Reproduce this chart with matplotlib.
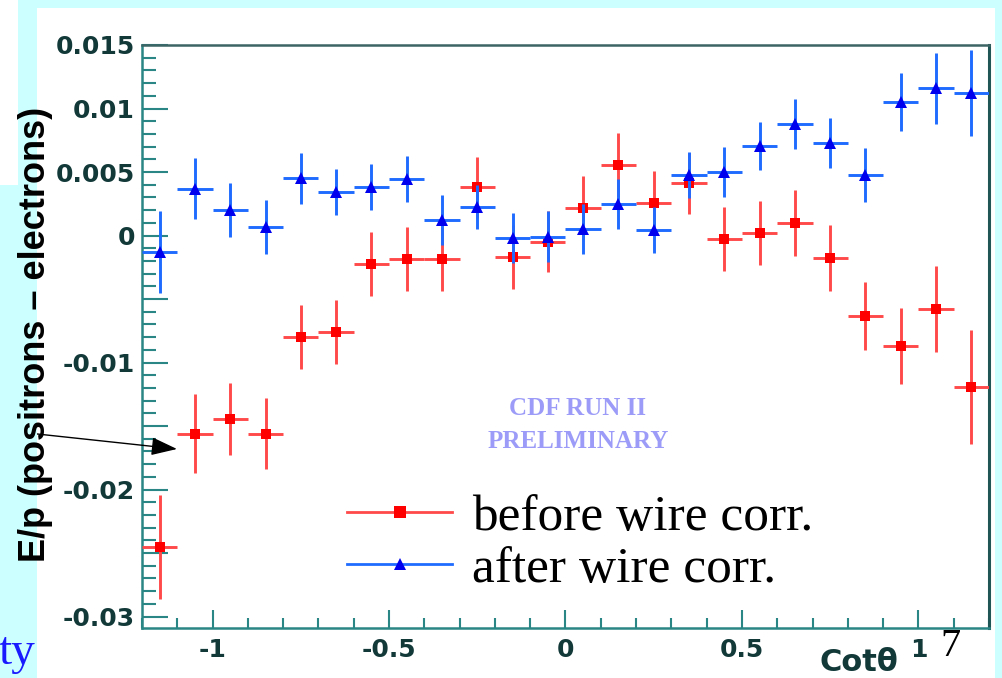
import matplotlib
matplotlib.use("Agg")
import matplotlib.pyplot as plt
from matplotlib.lines import Line2D
from matplotlib.patches import Rectangle
from matplotlib.ticker import FixedLocator, FixedFormatter, MultipleLocator

# ---- data ----
cot_theta = [-1.15, -1.05, -0.95, -0.85, -0.75, -0.65, -0.55, -0.45, -0.35, -0.25,
             -0.15, -0.05, 0.05, 0.15, 0.25, 0.35, 0.45, 0.55, 0.65, 0.75,
             0.85, 0.95, 1.05, 1.15]
bin_half_width = [0.05] * 24

before = [-0.0245, -0.0156, -0.01445, -0.0156, -0.0080, -0.0076, -0.00224, -0.00185,
          -0.00185, 0.0038, -0.0017, -0.0005, 0.00217, 0.00555, 0.00256, 0.00413,
          -0.00028, 0.0002, 0.00098, -0.00177, -0.00634, -0.0087, -0.00579, -0.01193]
before_err = [0.0041, 0.0031, 0.0028, 0.0028, 0.0025, 0.0025, 0.0025, 0.0025,
              0.0025, 0.0024, 0.0025, 0.0024, 0.0025, 0.0025, 0.0025, 0.0024,
              0.0025, 0.0025, 0.0026, 0.0026, 0.0027, 0.0030, 0.0034, 0.0045]

after = [-0.0013, 0.0037, 0.0020, 0.00067, 0.0045, 0.0034, 0.0038, 0.00445,
         0.00122, 0.00225, -0.0002, -0.0001, 0.00051, 0.00248, 0.00043, 0.00476,
         0.0050, 0.00705, 0.00878, 0.00728, 0.00476, 0.0105, 0.0116, 0.0112]
after_err = [0.0032, 0.0024, 0.0021, 0.0021, 0.0020, 0.0018, 0.0018, 0.0018,
             0.0020, 0.0017, 0.0020, 0.0020, 0.0020, 0.0020, 0.0018, 0.0018,
             0.0020, 0.0019, 0.0020, 0.0020, 0.0021, 0.0023, 0.0028, 0.0034]

ytick_values = [-0.03, -0.025, -0.02, -0.015, -0.01, -0.005, 0.0, 0.005, 0.01, 0.015]
ytick_labels = ["-0.03", "", "-0.02", "", "-0.01", "", "0", "0.005", "0.01", "0.015"]
xtick_values = [-1.0, -0.5, 0.0, 0.5, 1.0]
xtick_labels = ["-1", "-0.5", "0", "0.5", "1"]

series_labels = ["before wire corr.", "after wire corr."]

# ---- figure ----
W, H = 1003, 678
fig = plt.figure(figsize=(W / 100, H / 100), dpi=100, facecolor="white")

def fx(px):
    return px / W

def fy(py):
    return 1 - py / H

cyan = "#ccffff"
for (x0, y0, x1, y1) in [(18, 0, 1003, 8), (18, 0, 37, 185), (0, 185, 37, 678), (995, 0, 1003, 678)]:
    fig.patches.append(Rectangle((fx(x0), fy(y1)), fx(x1) - fx(x0), fy(y0) - fy(y1),
                                 transform=fig.transFigure, facecolor=cyan,
                                 edgecolor="none", zorder=0))

ax = fig.add_axes([fx(142), fy(628), fx(989) - fx(142), fy(45) - fy(628)])
ax.set_facecolor("white")
ax.set_xlim(-1.2, 1.2)
ax.set_ylim(-0.0309, 0.015)

red_bar = "#ff4a4a"
red_mk = "#ff0000"
blue_bar = "#1f6bff"
blue_mk = "#0000ee"

ax.errorbar(cot_theta, before, yerr=before_err, xerr=bin_half_width, fmt="s",
            color=red_mk, ecolor=red_bar, elinewidth=2.1, capsize=0,
            markersize=7.5, markeredgewidth=0, zorder=3)
ax.errorbar(cot_theta, after, yerr=after_err, xerr=bin_half_width, fmt="^",
            color=blue_mk, ecolor=blue_bar, elinewidth=2.1, capsize=0,
            markersize=8, markeredgewidth=0, zorder=4)

teal = "#2a8585"
tick_text = "#123838"
for side in ["left", "bottom"]:
    ax.spines[side].set_color(teal)
    ax.spines[side].set_linewidth(1.8)
ax.spines["top"].set_color("#3d6464")
ax.spines["top"].set_linewidth(1.8)
ax.spines["right"].set_color("#1f5555")
ax.spines["right"].set_linewidth(2.2)

ax.yaxis.set_major_locator(FixedLocator(ytick_values))
ax.yaxis.set_major_formatter(FixedFormatter(ytick_labels))
ax.yaxis.set_minor_locator(MultipleLocator(0.001))
ax.xaxis.set_major_locator(FixedLocator(xtick_values))
ax.xaxis.set_major_formatter(FixedFormatter(xtick_labels))
ax.xaxis.set_minor_locator(MultipleLocator(0.1))

ax.tick_params(axis="y", which="major", direction="in", length=19, width=1.5,
               color=teal, pad=5, labelsize=18, labelcolor=tick_text,
               right=False, left=True)
ax.tick_params(axis="y", which="minor", direction="in", length=10, width=1.5,
               color=teal, right=False, left=True)
ax.tick_params(axis="x", which="major", direction="in", length=13, width=1.5,
               color=teal, pad=7, labelsize=18, labelcolor=tick_text,
               top=False, bottom=True)
ax.tick_params(axis="x", which="minor", direction="in", length=7, width=1.5,
               color=teal, top=False, bottom=True)
for lab in ax.get_xticklabels() + ax.get_yticklabels():
    lab.set_fontfamily("DejaVu Sans")
    lab.set_fontweight("bold")

# watermark
fig.text(fx(578), fy(408), "CDF RUN II", ha="center", va="center",
         family="Liberation Serif", weight="bold", fontsize=18, color="#9c9cf8")
fig.text(fx(578), fy(442), "PRELIMINARY", ha="center", va="center",
         family="Liberation Serif", weight="bold", fontsize=18, color="#9c9cf8")

# legend
handles = [Line2D([], [], color=red_bar, lw=2.0, marker="s", markersize=9,
                  markerfacecolor=red_mk, markeredgewidth=0),
           Line2D([], [], color=blue_bar, lw=2.0, marker="^", markersize=8,
                  markerfacecolor=blue_mk, markeredgewidth=0)]
ax.legend(handles, series_labels, loc="upper left",
          bbox_to_anchor=(fx(347), fy(494)), bbox_transform=fig.transFigure,
          frameon=False, borderpad=0, borderaxespad=0, handlelength=2.05,
          handletextpad=0.38, labelspacing=0.1,
          prop={"family": "Liberation Serif", "size": 37})

# axis titles
fig.text(fx(35.5), fy(334), "E/p (positrons \u2013 electrons)", rotation=90,
         ha="center", va="center", family="Liberation Sans", weight="bold",
         fontsize=26, color="black")
fig.text(fx(859), fy(671), "Cot\u03b8", ha="center", va="baseline",
         family="DejaVu Sans", weight="bold", fontsize=22, color=tick_text)

# slide decorations
fig.text(fx(950), fy(656), "7", ha="center", va="baseline",
         family="Liberation Serif", fontsize=29, color="black")
fig.text(fx(35), fy(664), "ty", ha="right", va="baseline",
         family="Liberation Serif", fontsize=34, color="#1a1aff")
ax.annotate("", xy=(177, H - 449), xycoords="figure pixels",
            xytext=(0, H - 430), textcoords="figure pixels",
            arrowprops=dict(arrowstyle="-|>,head_length=0.8,head_width=0.28",
                            color="black", lw=1.0, mutation_scale=20,
                            shrinkA=0, shrinkB=0),
            annotation_clip=False)

fig.savefig("out.png", dpi=100, facecolor="white")
